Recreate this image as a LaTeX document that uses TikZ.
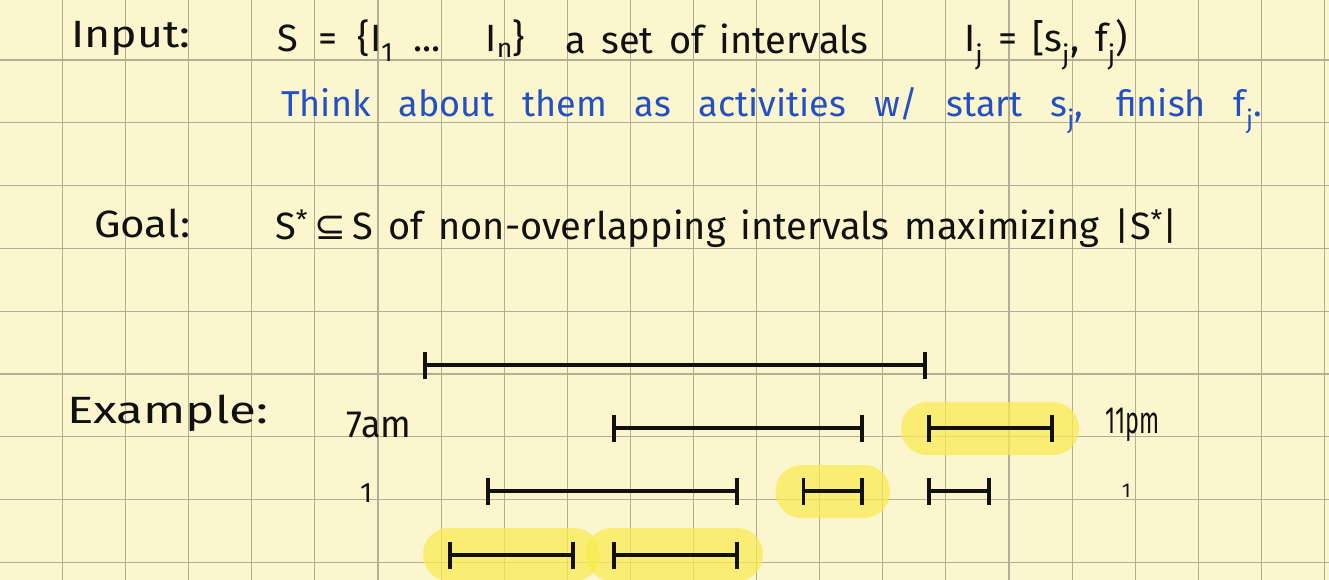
\documentclass[tikz,border=0pt]{standalone}
\usepackage{graphicx}
\usepackage{fontspec}
\setmainfont{Fira Sans}
\newfontfamily\symfont{DejaVu Sans}
\usetikzlibrary{arrows.meta}
\definecolor{paper}{HTML}{FCF6CE}
\definecolor{gridc}{HTML}{B3AD95}
\definecolor{pen}{HTML}{111111}
\definecolor{bluepen}{HTML}{2451C2}
\definecolor{hl}{HTML}{F9EC50}
\newcommand{\spreadtext}[2]{\makebox[#1][s]{#2}}
\newcommand{\fitw}[2]{\resizebox{#1}{\height}{#2}}
\begin{document}
\begin{tikzpicture}[x=1pt,y=-1pt,
  hand/.style={anchor=base west,inner sep=0pt,text=pen,font=\fontsize{38}{44}\selectfont},
  bluehand/.style={hand,text=bluepen,font=\fontsize{36}{42}\selectfont},
  ivl/.style={draw=pen,line width=3.6pt,{Bar[width=27pt,line width=3.6pt]}-{Bar[width=27pt,line width=3.6pt]}},
  hilite/.style={fill=hl,fill opacity=0.72,rounded corners=26pt},
  gridline/.style={draw=gridc,line width=1.1pt}]
\useasboundingbox (0,0) rectangle (1329,580);
\fill[paper] (0,0) rectangle (1329,580);
% grid
\foreach \i in {0,...,20} \draw[gridline] ({62.5+63.1*\i},0) -- ({62.5+63.1*\i},580);
\foreach \j in {0,...,8} \draw[gridline] (0,{60+62.8*\j}) -- (1329,{60+62.8*\j});
% highlights
\fill[hilite] (901,402) rectangle (1079,455);
\fill[hilite] (775.5,465) rectangle (890,518);
\fill[hilite] (423,528) rectangle (600,581);
\fill[hilite] (586,528) rectangle (763,581);
% interval end points
\coordinate (a1) at (423,365);   \coordinate (a2) at (927,365);
\coordinate (b1) at (612,428);   \coordinate (b2) at (864,428);
\coordinate (c1) at (927,428);   \coordinate (c2) at (1053.5,428);
\coordinate (d1) at (486,491);   \coordinate (d2) at (739,491);
\coordinate (e1) at (801.5,491); \coordinate (e2) at (864,491);
\coordinate (f1) at (927,491);   \coordinate (f2) at (990.7,491);
\coordinate (g1) at (448,555);   \coordinate (g2) at (574.5,555);
\coordinate (h1) at (612,555);   \coordinate (h2) at (739,555);
\foreach \p in {a,b,c,d,e,f,g,h} \draw[ivl] (\p1) -- (\p2);
% texts
\node[hand] (input) at (71,48) {\fitw{119pt}{Input:}};
\node[hand] (setS) at (277,52) {\spreadtext{248pt}{S = \{I\textsubscript{1} ... I\textsubscript{n}\}}};
\node[hand] (aset) at (565,54) {\spreadtext{303pt}{a set of intervals}};
\node[hand] (ij) at (964,52) {\spreadtext{164pt}{I\textsubscript{j} = [s\textsubscript{j}, f\textsubscript{j})}};
\node[bluehand] (think) at (281,117) {\spreadtext{981pt}{Think about them as activities w/ start s\textsubscript{j}, finish f\textsubscript{j}.}};
\node[hand] (goal) at (94,237) {\fitw{96pt}{Goal:}};
\node[hand] (goaltext) at (275,239) {\spreadtext{903pt}{S\textsuperscript{*}\,{\symfont ⊆}\,S of non-overlapping intervals maximizing |S\textsuperscript{*}|}};
\node[hand] (example) at (67,423) {\fitw{201pt}{Example:}};
\node[hand] (sevenam) at (346,437) {\fitw{65pt}{7am}};
\node[hand] (elevenpm) at (1105,433) {\fitw{54pt}{11pm}};
\node[hand,font=\fontsize{28}{32}\selectfont] (one1) at (360,502) {1};
\node[hand,font=\fontsize{20}{24}\selectfont] (one2) at (1122,497) {1};
\end{tikzpicture}
\end{document}
